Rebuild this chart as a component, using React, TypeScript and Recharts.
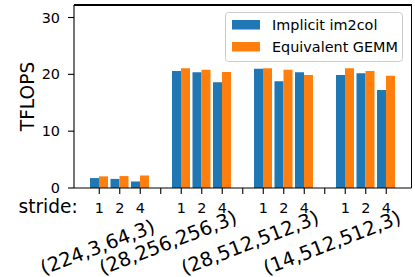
import React from 'react';
import { BarChart, Bar, XAxis, YAxis, Legend } from 'recharts';

const FONT = '"DejaVu Sans", sans-serif';

const groups = ['(224,3,64,3)', '(28,256,256,3)', '(28,512,512,3)', '(14,512,512,3)'];
const strides = ['1', '2', '4'];
const implicitIm2col = [
    [1.75, 1.6, 1.15],
    [20.6, 20.35, 18.6],
    [21.0, 18.8, 20.35],
    [19.9, 20.2, 17.25],
];
const equivalentGemm = [
    [2.05, 2.1, 2.2],
    [21.05, 20.8, 20.4],
    [21.05, 20.8, 19.9],
    [21.05, 20.6, 19.75],
];
const yTicks = [0, 10, 20, 30];

const series = [
    { key: 'implicit', name: 'Implicit im2col', color: '#1f77b4' },
    { key: 'gemm', name: 'Equivalent GEMM', color: '#ff7f0e' },
];

type Row = { key: string; stride: string; group: string; implicit: number | null; gemm: number | null };

const rows: Row[] = [];
groups.forEach((g, gi) => {
    strides.forEach((s, si) => {
        rows.push({
            key: `${gi}-${si}`,
            stride: s,
            group: si === 1 ? g : '',
            implicit: implicitIm2col[gi][si],
            gemm: equivalentGemm[gi][si],
        });
    });
    if (gi < groups.length - 1) {
        rows.push({ key: `gap${gi}`, stride: '', group: '', implicit: null, gemm: null });
    }
});

// rough DejaVu Sans advance widths, so the rotated labels line up at their lower edge
const charWidth = (c: string) => (c === '(' || c === ')' ? 0.39 : c === ',' ? 0.318 : 0.636);
const textWidth = (s: string, size: number) => s.split('').reduce((a, c) => a + charWidth(c), 0) * size;

const BIG = 18.6;
const GROUP = 19.5;
const SMALL = 14.4;
const ANGLE = 21;

const MARGIN = { top: 5, right: 3.5, bottom: 0, left: 0 };
const W = 415;
const H = 277;
const Y_AXIS_W = 74;
const X_AXIS_H = 89;
const PLOT_W = W - MARGIN.right - Y_AXIS_W;
const PLOT_H = H - MARGIN.top - X_AXIS_H;

const XTick = (props: any) => {
    const { x, y, payload, index } = props;
    const row = rows.find((r) => r.key === payload.value);
    if (!row) return null;
    const w = textWidth(row.group, GROUP);
    const ay = y + 81 - w * Math.sin((ANGLE * Math.PI) / 180);
    return (
        <g fontFamily={FONT} fill="#000">
            {row.stride && (
                <text x={x} y={y + 19.3} textAnchor="middle" fontSize={SMALL}>
                    {row.stride}
                </text>
            )}
            {index === 0 && (
                <text x={x - 21.5} y={y + 19.3} textAnchor="end" fontSize={BIG}>
                    stride:
                </text>
            )}
            {row.group && (
                <text
                    transform={`translate(${x + 36.5},${ay}) rotate(-${ANGLE})`}
                    textAnchor="end"
                    fontSize={GROUP}
                >
                    {row.group}
                </text>
            )}
        </g>
    );
};

const LegendBox = () => (
    <svg width={178} height={50} style={{ display: 'block' }}>
        <rect x={0.5} y={0.5} width={177} height={49} rx={3} fill="rgba(255,255,255,0.8)" stroke="#cccccc" />
        {series.map((s, i) => (
            <g key={s.key}>
                <rect x={7} y={8 + i * 22} width={28} height={9.5} fill={s.color} />
                <text x={47} y={17.5 + i * 22} fontSize={SMALL} fontFamily={FONT} fill="#000">
                    {s.name}
                </text>
            </g>
        ))}
    </svg>
);

const spine = { stroke: '#000', strokeWidth: 1.1 };

export default function App() {
    return (
        <div style={{ position: 'absolute', left: 0, top: 0, width: W, height: H, background: '#fff' }}>
            <BarChart width={W} height={H} data={rows} margin={MARGIN} barGap={0} barSize={9}>
                <XAxis
                    dataKey="key"
                    height={X_AXIS_H}
                    interval={0}
                    padding={{ left: 15, right: 15 }}
                    tickSize={6}
                    tickMargin={0}
                    axisLine={spine}
                    tickLine={spine}
                    tick={<XTick />}
                />
                <YAxis
                    width={Y_AXIS_W}
                    domain={[0, 32.2]}
                    ticks={yTicks}
                    tickSize={6}
                    tickMargin={8}
                    axisLine={spine}
                    tickLine={spine}
                    tick={{ fill: '#000', fontSize: SMALL, fontFamily: FONT }}
                    label={(p: any) => {
                        const vb = p.viewBox;
                        return (
                            <text
                                transform={`translate(33.5,${vb.y + vb.height / 2}) rotate(-90)`}
                                textAnchor="middle"
                                fontSize={BIG}
                                fontFamily={FONT}
                                fill="#000"
                            >
                                TFLOPS
                            </text>
                        );
                    }}
                />
                <Legend
                    layout="vertical"
                    align="center"
                    verticalAlign="middle"
                    wrapperStyle={{ left: 225, top: 12, width: 178, height: 50 }}
                    content={<LegendBox />}
                />
                {series.map((s) => (
                    <Bar key={s.key} dataKey={s.key} name={s.name} fill={s.color} isAnimationActive={false} />
                ))}
            </BarChart>
            {/* top and right spines of the matplotlib box */}
            <svg
                width={W}
                height={H}
                style={{ position: 'absolute', left: 0, top: 0, zIndex: 10, pointerEvents: 'none' }}
            >
                <path
                    d={`M${Y_AXIS_W},${MARGIN.top} H${Y_AXIS_W + PLOT_W} V${MARGIN.top + PLOT_H}`}
                    fill="none"
                    stroke="#000"
                    strokeWidth={1.5}
                    shapeRendering="crispEdges"
                />
            </svg>
        </div>
    );
}
